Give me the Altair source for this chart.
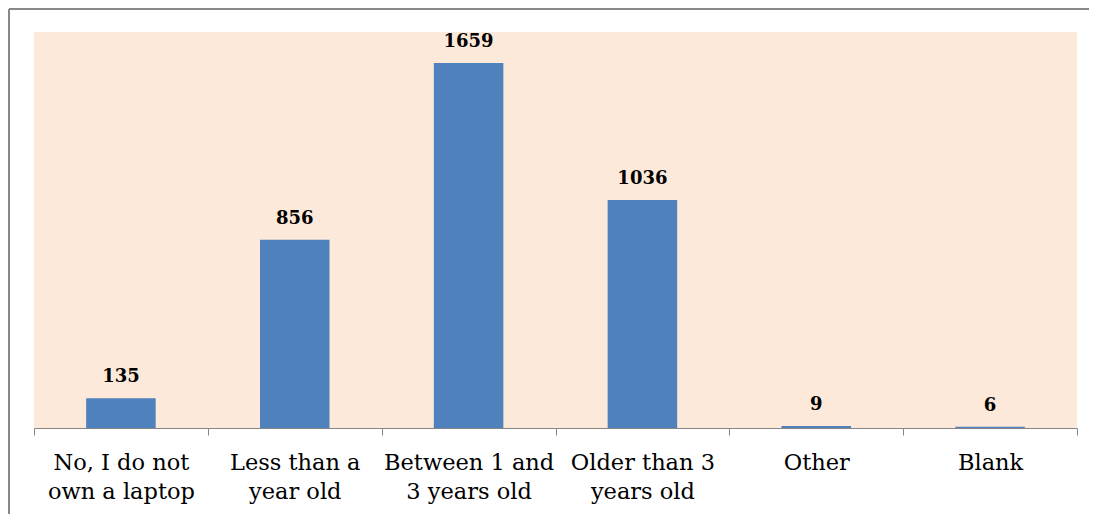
import altair as alt
import pandas as pd

categories = [
    "No, I do not\nown a laptop",
    "Less than a\nyear old",
    "Between 1 and\n3 years old",
    "Older than 3\nyears old",
    "Other",
    "Blank",
]
counts = [135, 856, 1659, 1036, 9, 6]

df = pd.DataFrame({"category": categories, "count": counts})

x_enc = alt.X(
    "category:N",
    sort=categories,
    scale=alt.Scale(paddingInner=0, paddingOuter=0),
    axis=alt.Axis(
        title=None,
        labelAngle=0,
        labelExpr="split(datum.label, '\\n')",
        labelFont="DejaVu Serif",
        labelFontSize=22.5,
        labelColor="#000000",
        labelLineHeight=29,
        labelPadding=16,
        labelBaseline="top",
        tickBand="extent",
        tickSize=7,
        tickColor="#868686",
        domainColor="#868686",
        grid=False,
    ),
)
y_enc = alt.Y(
    "count:Q",
    scale=alt.Scale(domain=[0, 1800], nice=False),
    axis=None,
)

bars = alt.Chart(df).mark_bar(
    color="#4F81BD", width=alt.RelativeBandSize(0.4)
).encode(x=x_enc, y=y_enc)

labels = alt.Chart(df).mark_text(
    font="DejaVu Serif", fontSize=18, fontWeight="bold", color="#000000",
    dy=-16, baseline="alphabetic",
).encode(x=alt.X("category:N", sort=categories), y="count:Q", text="count:Q")

border_top = alt.Chart(pd.DataFrame({"a": [0]})).mark_rule(
    color="#888888", strokeWidth=2
).encode(x=alt.value(-25), x2=alt.value(1070), y=alt.value(-23))
border_left = alt.Chart(pd.DataFrame({"a": [0]})).mark_rule(
    color="#888888", strokeWidth=2
).encode(x=alt.value(-25), y=alt.value(-23), y2=alt.value(500))

chart = (
    alt.layer(bars, labels, border_top, border_left)
    .properties(
        width=1043,
        height=396,
        autosize=alt.AutoSizeParams(type="none"),
        padding={"left": 26, "top": 24, "right": 12, "bottom": 86},
        background="#FFFFFF",
    )
    .configure_view(fill="#FDE9D9", stroke=None)
)

chart.save("out.html", embed_options={"renderer": "svg", "actions": False})
